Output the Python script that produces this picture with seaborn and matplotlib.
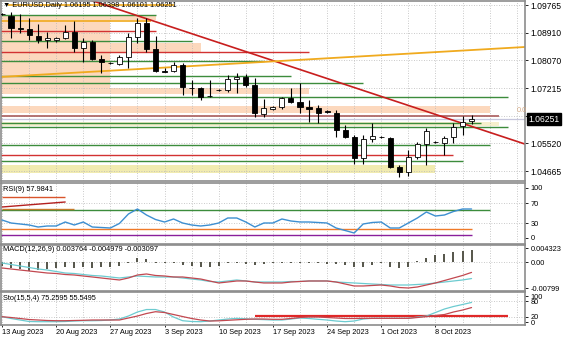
import numpy as np
import pandas as pd
import matplotlib
matplotlib.use("Agg")
import matplotlib.pyplot as plt
import seaborn as sns

# ---------------- data ----------------
days = pd.date_range("2023-08-13", "2023-10-12", freq="D")
bar_dates = days[days.dayofweek != 5]          # Sunday..Friday sessions

opens = [1.09489, 1.09427, 1.09059, 1.09028, 1.08813, 1.08690, 1.08700, 1.08752, 1.08936, 1.08444,
         1.08629, 1.08107, 1.07990, 1.07953, 1.08168, 1.08782, 1.09212, 1.08414, 1.07738, 1.07738,
         1.07922, 1.07230, 1.07216, 1.06960, 1.07140, 1.07154, 1.07492, 1.07554, 1.07308, 1.06417,
         1.06570, 1.06632, 1.06908, 1.06786, 1.06632, 1.06601, 1.06509, 1.06448, 1.05925, 1.05710,
         1.05065, 1.05649, 1.05710, 1.05680, 1.04789, 1.04635, 1.05096, 1.05495, 1.05560, 1.05526,
         1.05710, 1.06048, 1.06195]
highs = [1.09520, 1.09550, 1.09489, 1.09366, 1.09182, 1.08936, 1.08782, 1.09151, 1.09274, 1.08752,
         1.08690, 1.08229, 1.08014, 1.08229, 1.08905, 1.09366, 1.09366, 1.08813, 1.07830, 1.08014,
         1.07984, 1.07461, 1.07246, 1.07461, 1.07170, 1.07615, 1.07676, 1.07646, 1.07523, 1.06878,
         1.06650, 1.06939, 1.07216, 1.07369, 1.06847, 1.06693, 1.06540, 1.06540, 1.06079, 1.05772,
         1.05772, 1.06140, 1.05741, 1.05710, 1.04850, 1.05311, 1.05557, 1.05987, 1.05600, 1.05741,
         1.06140, 1.06355, 1.06398]
lows = [1.09458, 1.08752, 1.08905, 1.08690, 1.08598, 1.08444, 1.08629, 1.08721, 1.08322, 1.08014,
        1.08076, 1.07676, 1.07953, 1.07922, 1.07830, 1.08598, 1.08322, 1.07707, 1.07707, 1.07707,
        1.07001, 1.07001, 1.06847, 1.06939, 1.07120, 1.07093, 1.07062, 1.07246, 1.06325, 1.06325,
        1.06555, 1.06570, 1.06755, 1.06448, 1.06171, 1.06140, 1.06448, 1.05710, 1.05680, 1.04881,
        1.04881, 1.05557, 1.05680, 1.04758, 1.04481, 1.04512, 1.05035, 1.04850, 1.05526, 1.05157,
        1.05526, 1.05772, 1.06101]
closes = [1.09480, 1.09059, 1.09028, 1.08844, 1.08690, 1.08752, 1.08745, 1.08936, 1.08444, 1.08629,
          1.08107, 1.08014, 1.07984, 1.08168, 1.08782, 1.09212, 1.08414, 1.07738, 1.07720, 1.07922,
          1.07246, 1.07216, 1.06939, 1.06970, 1.07154, 1.07492, 1.07554, 1.07308, 1.06448, 1.06601,
          1.06632, 1.06908, 1.06786, 1.06632, 1.06570, 1.06448, 1.06478, 1.05925, 1.05710, 1.05065,
          1.05649, 1.05741, 1.05720, 1.04789, 1.04635, 1.05096, 1.05495, 1.05895, 1.05570, 1.05680,
          1.06017, 1.06171, 1.06251]

rsi_values = [36, 30, 28, 26, 22, 24, 24, 32, 26, 32,
              22, 21, 20, 29, 48, 58, 46, 37, 32, 38,
              30, 26, 24, 26, 30, 40, 40, 32, 22, 30,
              30, 38, 34, 32, 32, 31, 30, 20, 15, 10,
              28, 31, 32, 20, 20, 30, 40, 52, 44, 46,
              53, 58, 57.9841]

macd_hist = [-0.00123, -0.00184, -0.00215, -0.00276, -0.00245, -0.00215, -0.00184, -0.00153, -0.00184, -0.00153,
             -0.00184, -0.00153, -0.00153, -0.00123, -0.00015, 0.00123, 0.00092, -0.00015, -0.00030, -0.00030,
             -0.00092, -0.00123, -0.00153, -0.00153, -0.00123, -0.00030, -0.00015, -0.00046, -0.00092, -0.00061,
             -0.00030, -0.00015, -0.00015, -0.00030, -0.00030, -0.00030, -0.00046, -0.00061, -0.00092, -0.00153,
             -0.00153, -0.00092, -0.00030, -0.00153, -0.00184, -0.00153, 0.00030, 0.00123, 0.00215, 0.00245,
             0.00307, 0.00350, 0.003764]
macd_main = [-0.00021, -0.00067, -0.00113, -0.00159, -0.00205, -0.00236, -0.00282, -0.00328, -0.00343, -0.00374,
             -0.00404, -0.00420, -0.00450, -0.00481, -0.00450, -0.00420, -0.00435, -0.00450, -0.00450, -0.00450,
             -0.00481, -0.00512, -0.00542, -0.00588, -0.00604, -0.00573, -0.00542, -0.00573, -0.00604, -0.00604,
             -0.00604, -0.00604, -0.00588, -0.00588, -0.00573, -0.00573, -0.00573, -0.00604, -0.00619, -0.00634,
             -0.00650, -0.00665, -0.00680, -0.00696, -0.00696, -0.00696, -0.00680, -0.00665, -0.00634, -0.00604,
             -0.00573, -0.00542, -0.004979]
macd_signal = [-0.00174, -0.00205, -0.00236, -0.00266, -0.00297, -0.00328, -0.00343, -0.00374, -0.00389, -0.00420,
               -0.00450, -0.00481, -0.00512, -0.00542, -0.00481, -0.00389, -0.00358, -0.00404, -0.00420, -0.00450,
               -0.00450, -0.00481, -0.00512, -0.00573, -0.00634, -0.00604, -0.00573, -0.00573, -0.00604, -0.00634,
               -0.00634, -0.00634, -0.00604, -0.00588, -0.00573, -0.00573, -0.00573, -0.00604, -0.00665, -0.00726,
               -0.00726, -0.00711, -0.00696, -0.00726, -0.00773, -0.00788, -0.00757, -0.00696, -0.00634, -0.00558,
               -0.00481, -0.00404, -0.003097]

stoch_main = [20.4, 13.5, 7.7, 1.9, 1.2, 1.2, 1.2, 1.9, 3.8, 5.0,
              5.0, 5.8, 7.7, 11.5, 23.0, 38.5, 48.0, 48.0, 38.5, 19.0,
              5.0, 1.9, 1.2, 3.8, 7.7, 11.5, 14.0, 12.3, 10.4, 9.2,
              7.7, 7.7, 11.5, 15.4, 13.5, 10.4, 7.7, 3.8, 1.2, 3.8,
              11.5, 14.2, 14.2, 14.2, 14.2, 14.2, 19.0, 23.0, 36.5, 50.0,
              59.6, 67.3, 75.2595]
stoch_signal = [20.4, 17.3, 13.5, 9.6, 7.7, 5.8, 5.0, 5.0, 5.8, 6.5,
                7.7, 7.7, 7.7, 7.7, 15.4, 23.0, 32.7, 39.6, 36.5, 28.8,
                21.0, 13.5, 7.7, 3.8, 4.6, 6.5, 8.5, 10.4, 11.5, 11.5,
                10.4, 10.4, 13.5, 17.3, 19.2, 19.2, 17.3, 15.4, 13.5, 13.5,
                14.2, 14.2, 14.2, 14.2, 14.2, 14.2, 17.3, 21.0, 25.0, 28.8,
                38.5, 46.0, 55.5495]

price_ticks = [1.09765, 1.08910, 1.08070, 1.07215, 1.06360, 1.05520, 1.04665]
rsi_ticks = [100, 70, 30, 0]
macd_ticks = [0.004323, 0.0, -0.00799]
macd_tick_labels = ["0.004323", "0.00", "-0.00799"]
stoch_ticks = [100, 80, 20, 0]

# drawn support / resistance levels: (price, first bar, last bar)
green_levels = [(1.09458, -1, 17), (1.08660, -1, 21), (1.08045, -1, 29), (1.07584, -1, 32),
                (1.07369, -1, 40), (1.06939, -1, 56), (1.06140, -1, 53), (1.06033, -1, 56),
                (1.05465, -1, 54), (1.04973, -1, 51)]
red_levels = [(1.08967, -1, 17), (1.08322, -1, 34), (1.05157, -1, 50)]
brown_levels = [(1.06355, -1, 55)]
orange_levels = [(1.09750, 0.7, 19), (1.09274, -1, 16.5)]
# shaded zones: (low price, high price, first bar, last bar)
peach_zones = [(1.09305, 1.09458, -1, 17), (1.07062, 1.09305, -1, 12), (1.08322, 1.08598, 12, 22),
               (1.07032, 1.07216, -1, 34), (1.06448, 1.06663, -1, 54)]
yellow_zones = [(1.04604, 1.04850, -1, 48)]
pale_zones = [(1.06048, 1.06171, -1, 55)]
# trend lines: ((bar, price), (bar, price))
down_trend = ((9.75, 1.09919), (57.9, 1.05495))
up_trend = ((-0.22, 1.07554), (57.9, 1.08475))

rsi_levels = [(56, -1, 54, "#3c8c3c"), (18, -1, 52, "#f07a28"), (6, -1, 52, "#8a1f9c"),
              (82, 0, 7, "#d9542b"), (58, 0, 8, "#c47a2a")]
rsi_slope = ((0, 62), (7, 72))
stoch_level = (23, 28, 56)

# ---------------- style ----------------
sns.set_theme(style="white")
plt.rcParams["font.family"] = ["Liberation Sans", "DejaVu Sans"]
TXT = 5.3          # panel captions and dates
PRICE_TXT = 6.2    # price scale
IND_TXT = 5.3      # indicator scales

W, H = 564, 338
fig = plt.figure(figsize=(W / 100, H / 100), dpi=100)
fig.patch.set_facecolor("white")


def panel(top, bottom):
    return fig.add_axes([1 / W, 1 - bottom / H, 524 / W, (bottom - top) / H])


ax_p = panel(1, 181)
ax_r = panel(183, 244)
ax_m = panel(245, 291)
ax_s = panel(292, 325)
axes = [ax_p, ax_r, ax_m, ax_s]
XMIN, XMAX = -0.11, 57.92

idx = np.arange(len(closes))
o = np.array(opens); h = np.array(highs); l = np.array(lows); c = np.array(closes)

grid_kw = dict(color="#b8b8b8", lw=0.6, ls=(0, (1, 2)), zorder=0.5)
for ax in axes:
    ax.set_facecolor("white")
    ax.set_xlim(XMIN, XMAX)
    for s in ax.spines.values():
        s.set_color("#8c8c8c")
        s.set_linewidth(1.2)
        s.set_visible(True)
    for gx in range(0, 58, 3):
        ax.axvline(gx, **grid_kw)
    ax.yaxis.tick_right()
    ax.tick_params(axis="y", length=2, width=0.6, pad=2, labelsize=IND_TXT, colors="black",
                   right=True, left=False)
    ax.tick_params(axis="x", bottom=False, labelbottom=False)

# ---------------- price panel ----------------
ax_p.set_ylim(1.04359, 1.09888)
ax_p.set_yticks(price_ticks)
ax_p.set_yticklabels([f"{v:.5f}" for v in price_ticks], fontsize=PRICE_TXT)
for v in price_ticks:
    ax_p.axhline(v, **grid_kw)

for lo, hi, x0, x1 in peach_zones:
    ax_p.fill_between([x0, x1], lo, hi, color="#fcd8bd", lw=0, zorder=0.3)
for lo, hi, x0, x1 in yellow_zones:
    ax_p.fill_between([x0, x1], lo, hi, color="#f1ebb0", lw=0, zorder=0.3)
for lo, hi, x0, x1 in pale_zones:
    ax_p.fill_between([x0, x1], lo, hi, color="#f6efcc", lw=0, zorder=0.3)

for p, x0, x1 in green_levels:
    ax_p.hlines(p, x0, x1, color="#3c8c3c", lw=1.0, zorder=1)
for p, x0, x1 in red_levels:
    ax_p.hlines(p, x0, x1, color="#d23232", lw=1.0, zorder=1)
for p, x0, x1 in brown_levels:
    ax_p.hlines(p, x0, x1, color="#b06868", lw=1.3, zorder=1)
for p, x0, x1 in orange_levels:
    ax_p.hlines(p, x0, x1, color="#f0aa1e", lw=1.2, zorder=1)

bid = closes[-1]
ax_p.axhline(bid, color="#c6c6dc", lw=0.9, zorder=1)

(tx0, tp0), (tx1, tp1) = down_trend
ax_p.plot([tx0, tx1], [tp0, tp1], color="#c81e1e", lw=1.2, zorder=2)
(ux0, up0), (ux1, up1) = up_trend
ax_p.plot([ux0, ux1], [up0, up1], color="#f0aa1e", lw=1.3, zorder=2)

# candlesticks
ax_p.vlines(idx, l, h, color="black", lw=0.8, zorder=3)
rising = c >= o
body_low = np.minimum(o, c)
body_h = np.maximum(np.abs(c - o), 0.00004)
ax_p.bar(idx, body_h, bottom=body_low, width=0.56,
         color=np.where(rising, "white", "black"), edgecolor="black", linewidth=0.6, zorder=4)

ax_p.annotate(f"{bid:.5f}", xy=(1, bid), xycoords=("axes fraction", "data"),
              xytext=(2.6, 0), textcoords="offset points", ha="left", va="center",
              fontsize=PRICE_TXT, color="white", zorder=30, annotation_clip=False,
              bbox=dict(boxstyle="square,pad=0.18", fc="black", ec="black"))
fig.text(527 / W, 1 - 111 / H, "0.0", ha="right", va="center", fontsize=TXT, color="#d4aa86")

header = (f"\u25bc EURUSD,Daily {opens[-1]:.5f} {highs[-1]:.5f} "
          f"{lows[-1]:.5f} {closes[-1]:.5f}")
fig.text(3 / W, 1 - 5.5 / H, header, ha="left", va="center", fontsize=TXT, color="black",
         zorder=10)

# ---------------- RSI panel ----------------
ax_r.set_ylim(-12, 110)
ax_r.set_yticks(rsi_ticks)
ax_r.set_yticklabels([str(v) for v in rsi_ticks], fontsize=IND_TXT)
for v in (70, 30):
    ax_r.axhline(v, **grid_kw)
for v, x0, x1, col in rsi_levels:
    ax_r.hlines(v, x0, x1, color=col, lw=1.0, zorder=1)
(sx0, sv0), (sx1, sv1) = rsi_slope
ax_r.plot([sx0, sx1], [sv0, sv1], color="#b42020", lw=1.0, zorder=1)
sns.lineplot(x=idx, y=rsi_values, ax=ax_r, color="#3d8fd1", lw=1.0, legend=False, zorder=3)
fig.text(3 / W, 1 - 189.5 / H, f"RSI(9) {rsi_values[-1]:.4f}", ha="left", va="center",
         fontsize=TXT, color="black")

# ---------------- MACD panel ----------------
ax_m.set_ylim(-0.0088, 0.00531)
ax_m.set_yticks(macd_ticks)
ax_m.set_yticklabels(macd_tick_labels, fontsize=IND_TXT)
ax_m.axhline(0, **grid_kw)
ax_m.vlines(idx, 0, macd_hist, color="#55554a", lw=1.4, zorder=2)
sns.lineplot(x=idx, y=macd_main, ax=ax_m, color="#6ccbd0", lw=0.9, legend=False, zorder=3)
sns.lineplot(x=idx, y=macd_signal, ax=ax_m, color="#c24850", lw=0.9, legend=False, zorder=3)
fig.text(3 / W, 1 - 249.5 / H,
         f"MACD(12,26,9) {macd_hist[-1]:.6f} {macd_main[-1]:.6f} {macd_signal[-1]:.6f}",
         ha="left", va="center", fontsize=TXT, color="black")

# ---------------- Stochastic panel ----------------
ax_s.set_ylim(-11.5, 115.4)
ax_s.set_yticks(stoch_ticks)
ax_s.set_yticklabels([str(v) for v in stoch_ticks], fontsize=IND_TXT)
for v in (80, 20):
    ax_s.axhline(v, **grid_kw)
lv, lx0, lx1 = stoch_level
ax_s.hlines(lv, lx0, lx1, color="#e02828", lw=1.6, zorder=2)
sns.lineplot(x=idx, y=stoch_main, ax=ax_s, color="#6ccbd0", lw=0.9, legend=False, zorder=3)
sns.lineplot(x=idx, y=stoch_signal, ax=ax_s, color="#c24850", lw=0.9, legend=False, zorder=3)
fig.text(3 / W, 1 - 298.5 / H, f"Sto(15,5,4) {stoch_main[-1]:.4f} {stoch_signal[-1]:.4f}",
         ha="left", va="center", fontsize=TXT, color="black")

sunday_idx = [i for i, d in enumerate(bar_dates) if d.dayofweek == 6]
sunday_labels = [f"{bar_dates[i].day} {bar_dates[i]:%b %Y}" for i in sunday_idx]
ax_s.set_xticks(sunday_idx)
ax_s.set_xticklabels(sunday_labels, ha="left", fontsize=TXT)
ax_s.tick_params(axis="x", bottom=True, labelbottom=True, length=1.5, width=0.6, pad=1.5,
                 colors="black")
ax_s.set_xlim(XMIN, XMAX)

for ax in axes:
    ax.set_xlabel("")
    ax.set_ylabel("")

fig.savefig("out.png", dpi=100, facecolor="white")
